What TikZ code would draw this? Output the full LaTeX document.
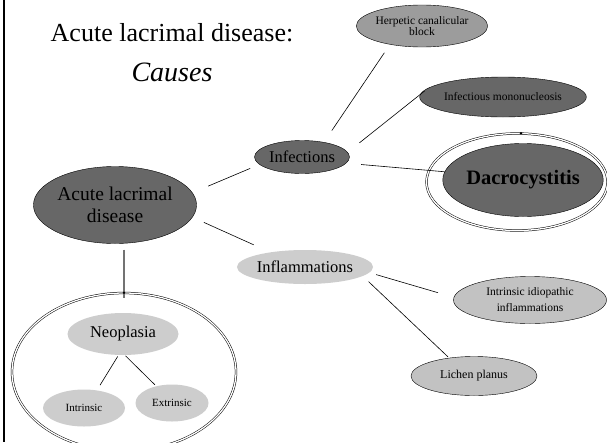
\documentclass[tikz,border=0pt]{standalone}
\usepackage{fontspec}
\setmainfont{Liberation Serif}
\usetikzlibrary{shapes.geometric}
\definecolor{darkfill}{HTML}{676767}
\definecolor{midfill}{HTML}{9C9C9C}
\definecolor{palefill}{HTML}{C2C2C2}
\definecolor{lightfill}{HTML}{CDCDCD}
\tikzset{
  blob/.style = {ellipse, inner sep=0pt, align=center, text=black},
  darkblob/.style = {blob, draw=black, fill=darkfill},
  midblob/.style = {blob, draw=black, fill=midfill},
  paleblob/.style = {blob, draw=black, fill=palefill},
  lightblob/.style = {blob, fill=lightfill},
  ring/.style = {ellipse, inner sep=0pt, draw=black, line width=0.5pt,
    double=white, double distance=1.3pt},
  link/.style = {line width=0.6pt},
  fs/.style 2 args = {font=\fontsize{#1}{#2}\selectfont}
}

\begin{document}
\begin{tikzpicture}[x=1pt,y=-1pt]
\useasboundingbox (0,0) rectangle (607,442);

% left edge
\draw[line width=2pt] (4,0) -- (4,442);

% title
\node[fs={26}{30}] (title) at (172,33) {Acute lacrimal disease:};
\node[fs={28}{30}] (causes) at (172,72) {\itshape Causes};

% rings
\node[ring, minimum width=181pt, minimum height=97pt] (dacroring) at (517,182) {};
\node[ring, minimum width=224pt, minimum height=158pt] (neoring) at (124,372) {};

% main nodes
\node[darkblob, fs={19.5}{22}, minimum width=149pt, minimum height=77pt] (acute) at (115,205)
  {Acute lacrimal\\ disease};
\node[darkblob, fs={16.5}{19}, minimum width=95pt, minimum height=33pt] (infections) at (302,157)
  {Infections};
\node[lightblob, fs={16.5}{19}, minimum width=111pt, minimum height=34pt] (inflam) at (305,267)
  {Inflammations};

% infections
\node[midblob, fs={11.5}{11}, minimum width=130pt, minimum height=42pt] (herpetic) at (422,26)
  {Herpetic canalicular\\ block};
\node[darkblob, fs={11.5}{14}, minimum width=140pt, minimum height=40pt] (mono) at (503,97)
  {Infectious mononucleosis};
\node[darkblob, fs={20.5}{24}, minimum width=152pt, minimum height=73pt] (dacro) at (523,180)
  {\bfseries Dacrocystitis};

% inflammations
\node[paleblob, fs={11.5}{16}, minimum width=153pt, minimum height=47pt] (idio) at (530,300)
  {Intrinsic idiopathic\\ inflammations};
\node[paleblob, fs={12}{14}, minimum width=126pt, minimum height=39pt] (lichen) at (474,376)
  {Lichen planus};

% neoplasia
\node[lightblob, fs={16.5}{19}, minimum width=111pt, minimum height=42pt] (neo) at (123,334)
  {Neoplasia};
\node[lightblob, fs={11}{13}, minimum width=82pt, minimum height=37pt] (intr) at (84,408)
  {Intrinsic};
\node[lightblob, fs={11}{13}, minimum width=73pt, minimum height=37pt] (extr) at (172,403)
  {Extrinsic};

% connectors
\draw[link, shorten <=17pt, shorten >=10pt] (acute.9) -- (infections.190);
\draw[link, shorten <=12.5pt, shorten >=18pt] (acute.-9) -- (inflam.157);
\draw[link, shorten <=14pt, shorten >=10pt] (infections.34) -- (herpetic.210);
\draw[link, shorten <=15pt, shorten >=5pt] (infections.6) -- (mono.173);
\draw[link, shorten <=15pt, shorten >=0pt] (infections.-8) -- (dacro.174);
\draw[link, shorten <=7pt, shorten >=16.5pt] (inflam.-5) -- (idio.178);
\draw[link, shorten <=8pt, shorten >=1.5pt] (inflam.-9) -- (lichen.144);
\draw[link, shorten <=1.5pt, shorten >=6pt] (neo.258) -- (intr.54);
\draw[link, shorten <=1pt, shorten >=2pt] (neo.275) -- (extr.133);
\draw[line width=1.3pt, black!55, shorten <=6pt, shorten >=-5pt]
  (neoring.north |- acute.south) -- (neoring.north);

% joints on rings
\fill ([xshift=4pt]dacroring.north) circle (1.3pt);
\fill (neoring.north) circle (1.3pt);
\end{tikzpicture}
\end{document}
